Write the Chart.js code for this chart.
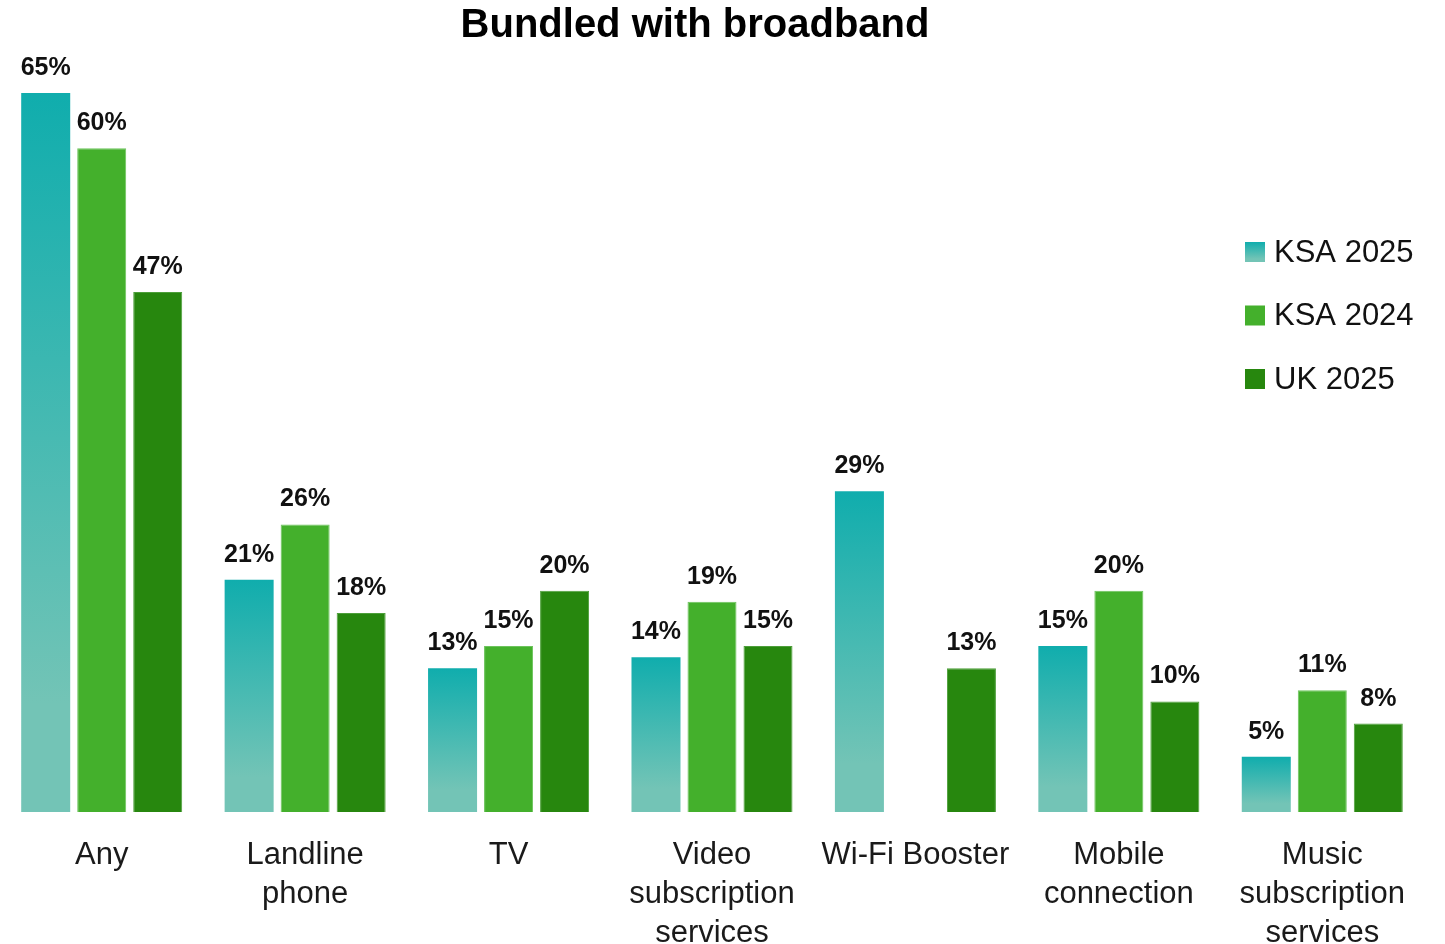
<!DOCTYPE html>
<html>
<head>
<meta charset="utf-8">
<title>Bundled with broadband</title>
<script src="https://cdn.jsdelivr.net/npm/chart.js@4.4.1/dist/chart.umd.min.js"></script>
<style>
  html, body { margin: 0; padding: 0; background: #fff; }
  #wrap { width: 1445px; height: 944px; position: relative; }
</style>
</head>
<body>
<div id="wrap"><canvas id="chart"></canvas></div>
<script>
'use strict';

const categories = [
  'Any',
  ['Landline', 'phone'],
  'TV',
  ['Video', 'subscription', 'services'],
  'Wi-Fi Booster',
  ['Mobile', 'connection'],
  ['Music', 'subscription', 'services']
];

const ksa2025 = [65, 21, 13, 14, 29, 15, 5];
const ksa2024 = [60, 26, 15, 19, null, 20, 11];
const uk2025 = [47, 18, 20, 15, 13, 10, 8];

const tealTop = '#10adad';
const tealBottom = '#73c4b6';
const lightGreen = '#44b02c';
const darkGreen = '#27870e';
const fontFamily = '"Liberation Sans", Arial, sans-serif';

function makeTealGradient(ctx, top, bottom) {
  const g = ctx.createLinearGradient(0, top, 0, bottom);
  g.addColorStop(0, tealTop);
  g.addColorStop(0.85, tealBottom);
  g.addColorStop(1, tealBottom);
  return g;
}

// each KSA 2025 bar fades from teal at its top to pale teal at its base
function tealFill(context) {
  const chart = context.chart;
  if (!chart.chartArea || context.type !== 'data' || context.raw == null) {
    return tealTop;
  }
  const y = chart.scales.y;
  return makeTealGradient(chart.ctx, y.getPixelForValue(context.raw), y.getPixelForValue(0));
}

// nudge the title a little left, over the bars rather than the whole width
const titleShift = {
  id: 'titleShift',
  afterLayout(chart) {
    if (chart.titleBlock) chart.titleBlock.right -= 34;
  }
};

const valueLabels = {
  id: 'valueLabels',
  afterDatasetsDraw(chart) {
    const ctx = chart.ctx;
    ctx.save();
    ctx.font = 'bold 25px ' + fontFamily;
    ctx.fillStyle = '#111';
    ctx.textAlign = 'center';
    ctx.textBaseline = 'alphabetic';
    chart.data.datasets.forEach(function(ds, i) {
      const meta = chart.getDatasetMeta(i);
      meta.data.forEach(function(bar, j) {
        const v = ds.data[j];
        if (v == null) return;
        ctx.fillText(v + '%', bar.x, bar.y - 18);
      });
    });
    ctx.restore();
  }
};

const sideLegend = {
  id: 'sideLegend',
  afterDraw(chart) {
    const ctx = chart.ctx;
    const area = chart.chartArea;
    const x = area.right - 179;
    let y = area.top + 159;
    ctx.save();
    ctx.font = '31px ' + fontFamily;
    ctx.textBaseline = 'middle';
    chart.data.datasets.forEach(function(ds, i) {
      let swatch = ds.legendColor;
      if (i === 0) swatch = makeTealGradient(ctx, y - 10, y + 10);
      ctx.fillStyle = swatch;
      ctx.fillRect(x, y - 10, 20, 20);
      ctx.fillStyle = '#111';
      ctx.fillText(ds.label, x + 29, y + 1);
      y += 63.5;
    });
    ctx.restore();
  }
};

new Chart(document.getElementById('chart'), {
  type: 'bar',
  data: {
    labels: categories,
    datasets: [
      {
        label: 'KSA 2025',
        data: ksa2025,
        backgroundColor: tealFill,
        legendColor: tealTop,
        borderWidth: 0
      },
      {
        label: 'KSA 2024',
        data: ksa2024,
        backgroundColor: lightGreen,
        legendColor: lightGreen,
        borderColor: '#6cc45c',
        borderWidth: 1
      },
      {
        label: 'UK 2025',
        data: uk2025,
        backgroundColor: darkGreen,
        legendColor: darkGreen,
        borderColor: '#4d9f3a',
        borderWidth: 1
      }
    ]
  },
  options: {
    responsive: true,
    maintainAspectRatio: false,
    animation: false,
    categoryPercentage: 0.826,
    barPercentage: 0.875,
    layout: { padding: { left: 0, right: 21, top: 0, bottom: 0 } },
    plugins: {
      legend: { display: false },
      tooltip: { enabled: false },
      title: {
        display: true,
        text: 'Bundled with broadband',
        color: '#000',
        font: { family: fontFamily, size: 40, weight: 'bold', lineHeight: 1.2 },
        padding: { top: 2, bottom: 43 }
      }
    },
    scales: {
      x: {
        grid: { display: false, drawTicks: false },
        border: { display: false },
        ticks: {
          color: '#1a1a1a',
          font: { family: fontFamily, size: 31, lineHeight: 1.26 },
          padding: 24,
          maxRotation: 0,
          autoSkip: false
        },
        afterFit(scale) {
          scale.height = 132;
        }
      },
      y: {
        display: false,
        min: 0,
        max: 65
      }
    }
  },
  plugins: [titleShift, valueLabels, sideLegend]
});
</script>
</body>
</html>
